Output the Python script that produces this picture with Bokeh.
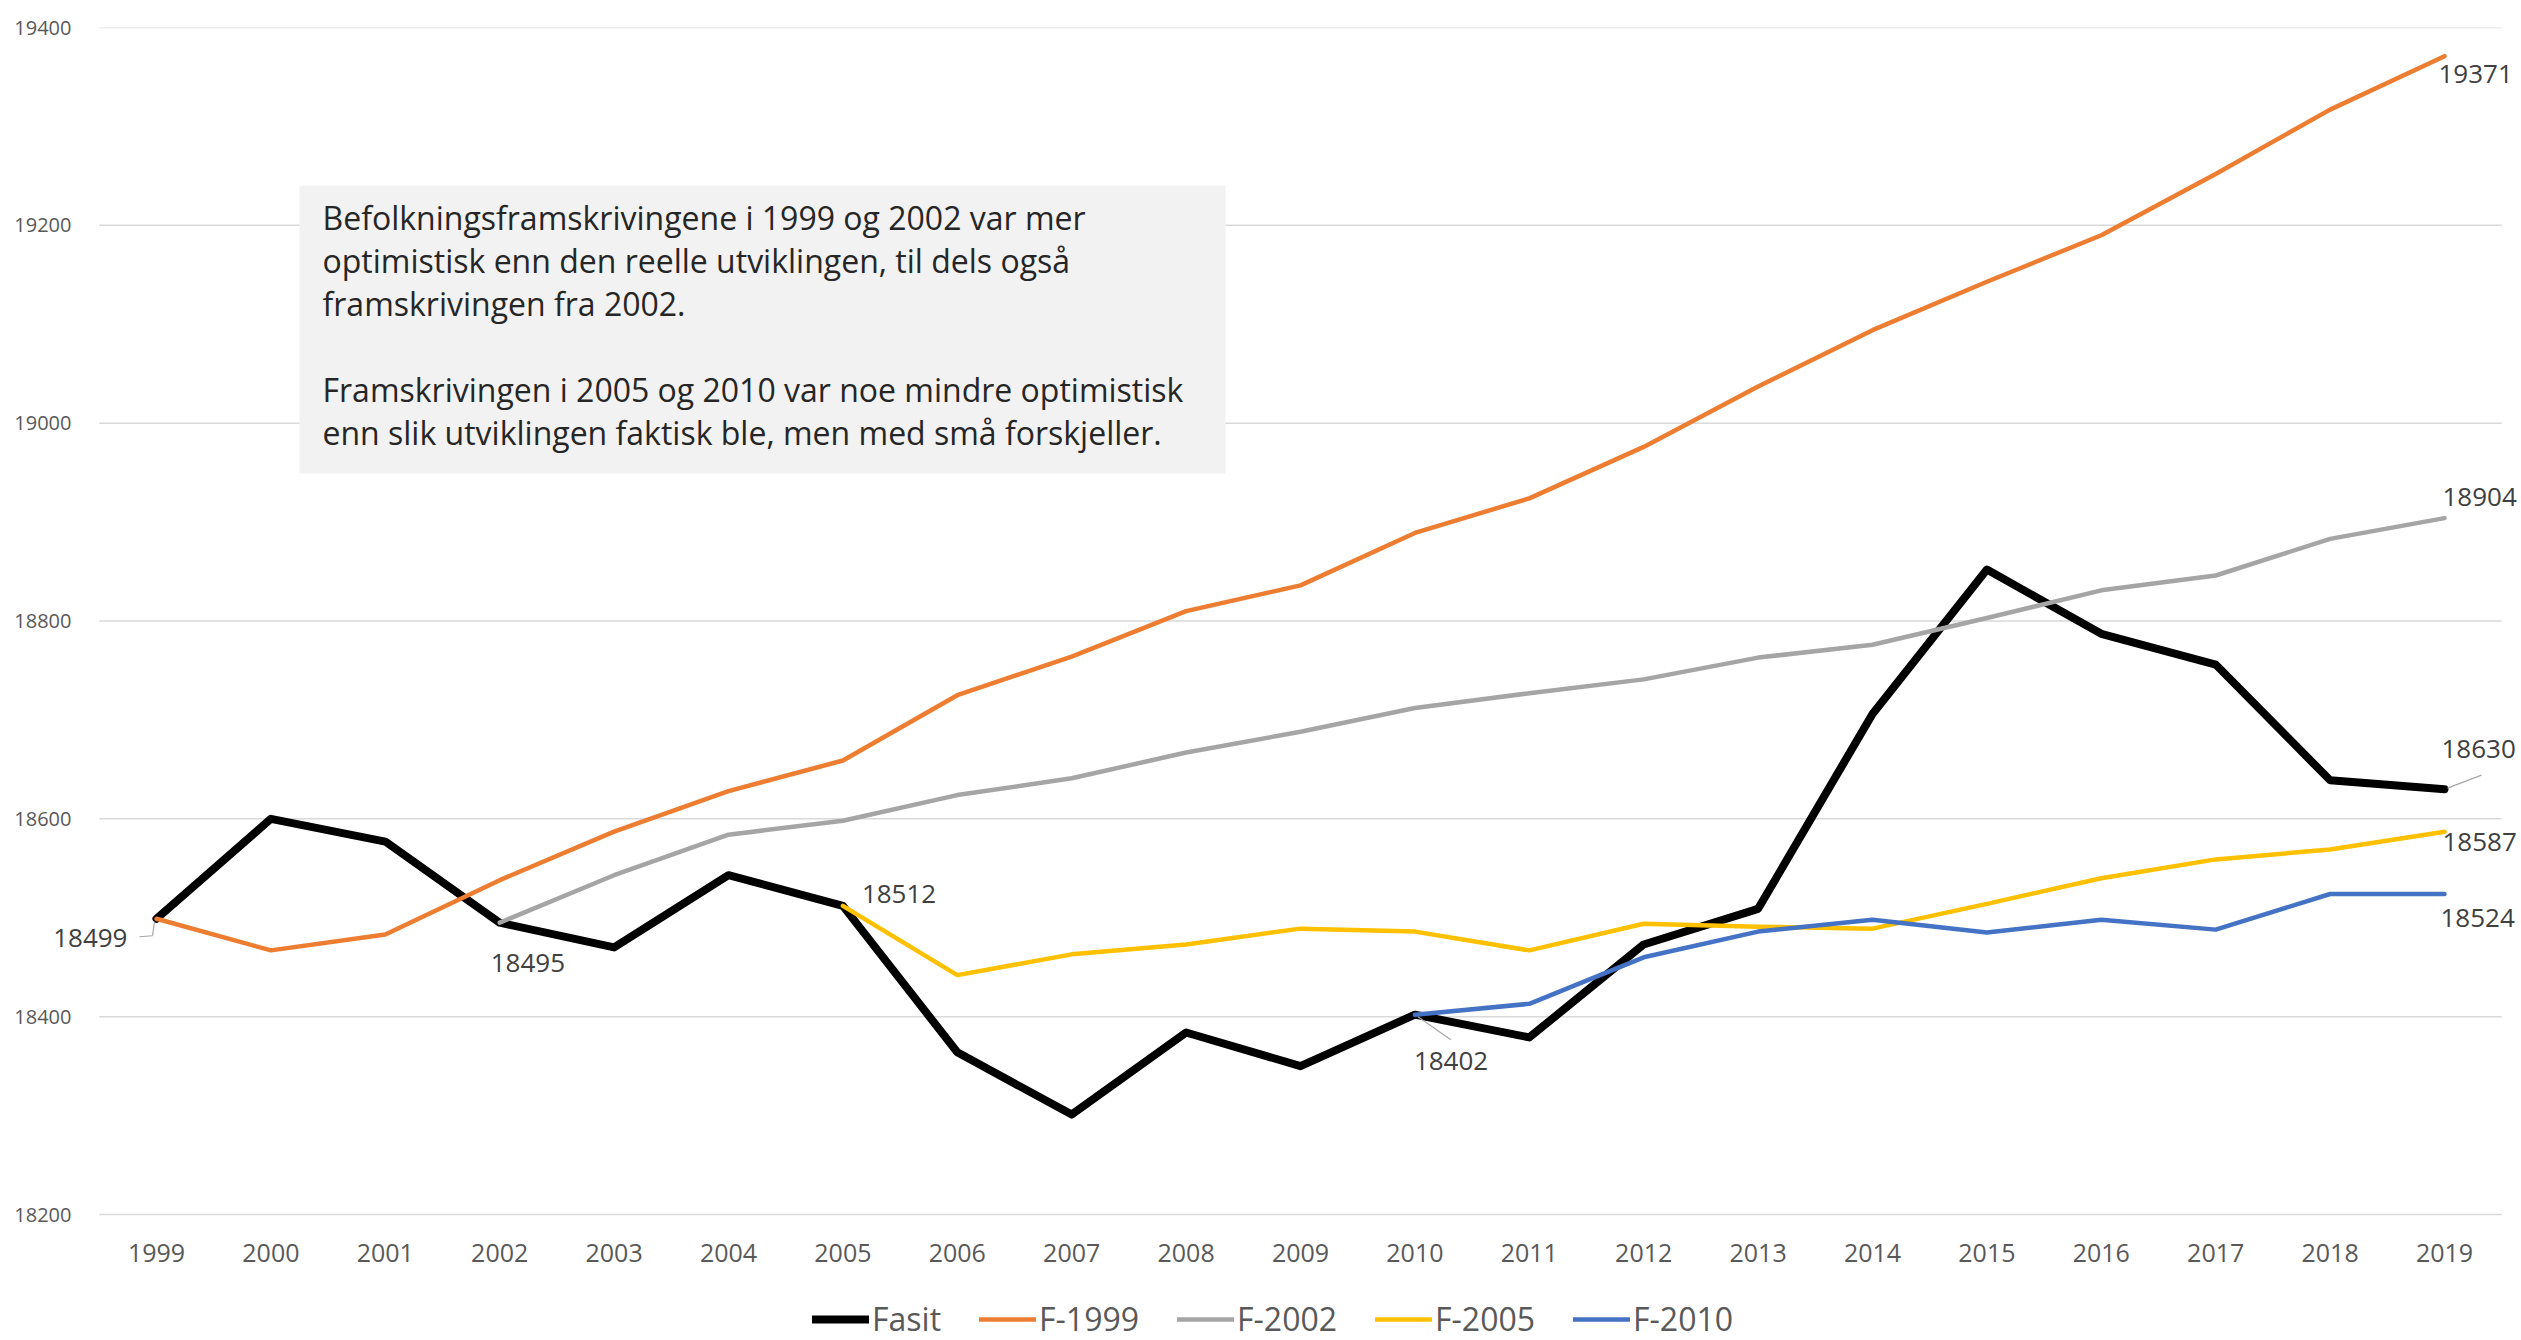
from bokeh.plotting import figure
from bokeh.models import (Range1d, FixedTicker, ColumnDataSource, LabelSet, Label,
                          Legend, LegendItem)
from bokeh.core.properties import value
from bokeh.embed import file_html
from bokeh.resources import INLINE

# ---------------- data ----------------
YEARS = list(range(1999, 2020))
FASIT = [18499, 18600, 18577, 18495, 18470, 18543, 18512, 18364, 18301, 18384, 18350,
         18402, 18379, 18473, 18509, 18706, 18852, 18787, 18756, 18639, 18630]
F1999_YEARS = list(range(1999, 2020))
F1999 = [18499, 18467, 18483, 18538, 18587, 18628, 18659, 18725, 18764, 18810, 18836,
         18889, 18924, 18976, 19037, 19094, 19143, 19190, 19252, 19317, 19371]
F2002_YEARS = list(range(2002, 2020))
F2002 = [18495, 18543, 18584, 18598, 18624, 18641, 18667, 18688, 18712, 18727, 18741,
         18763, 18776, 18803, 18831, 18846, 18883, 18904]
F2005_YEARS = list(range(2005, 2020))
F2005 = [18512, 18442, 18463, 18473, 18489, 18486, 18467, 18494, 18491, 18489, 18514,
         18540, 18559, 18569, 18587]
F2010_YEARS = list(range(2010, 2020))
F2010 = [18402, 18413, 18460, 18486, 18498, 18485, 18498, 18488, 18524, 18524]
Y_TICKS = [18200, 18400, 18600, 18800, 19000, 19200, 19400]
SERIES_NAMES = ["Fasit", "F-1999", "F-2002", "F-2005", "F-2010"]
NOTE = ("Befolkningsframskrivingene i 1999 og 2002 var mer\n"
        "optimistisk enn den reelle utviklingen, til dels også\n"
        "framskrivingen fra 2002.\n"
        "\n"
        "Framskrivingen i 2005 og 2010 var noe mindre optimistisk\n"
        "enn slik utviklingen faktisk ble, men med små forskjeller.")

# ---------------- styling / layout ----------------
FONT = "Open Sans"
TXT = "#595959"
LBL = "#404040"
COLORS = ["#000000", "#ED7D31", "#A5A5A5", "#FFC000", "#4472C4"]
WIDTHS = [8, 4.5, 4.5, 4.5, 4.5]
W, H = 2521, 1340
FL, FR, FT, FB = 40, 2521, 27, 1340          # frame edges in px
X_FIRST_PX, X_LAST_PX = 156, 2444            # px of first / last year
Y_TOP_PX, Y_BOT_PX = 27, 1214                # px of highest / lowest y tick
YLAB_RIGHT_PX = 77                           # right edge of y tick labels
PX_PER_YEAR = (X_LAST_PX - X_FIRST_PX) / (YEARS[-1] - YEARS[0])
PX_PER_UNIT = (Y_BOT_PX - Y_TOP_PX) / (Y_TICKS[-1] - Y_TICKS[0])
PX_X = 1 / PX_PER_YEAR
PX_Y = 1 / PX_PER_UNIT
x_start = YEARS[0] - (X_FIRST_PX - FL) * PX_X
x_end = YEARS[-1] + (FR - X_LAST_PX) * PX_X
y_start = Y_TICKS[0] - (FB - Y_BOT_PX) * PX_Y
y_end = Y_TICKS[-1] + (Y_TOP_PX - FT) * PX_Y

p = figure(width=W, height=H, output_backend="svg", toolbar_location=None,
           x_range=Range1d(x_start, x_end), y_range=Range1d(y_start, y_end),
           min_border_left=FL, min_border_right=W - FR, min_border_top=FT,
           min_border_bottom=H - FB)
p.outline_line_color = None
p.background_fill_color = "white"
p.border_fill_color = "white"
p.xgrid.grid_line_color = None
p.ygrid.grid_line_color = None

for ax in (p.xaxis[0], p.yaxis[0]):
    ax.axis_line_color = None
    ax.major_tick_line_color = None
    ax.minor_tick_line_color = None
    ax.major_label_text_font = FONT
    ax.major_label_text_color = TXT

p.xaxis.ticker = FixedTicker(ticks=YEARS)
p.xaxis.major_label_text_font_size = "25px"
p.xaxis.major_label_standoff = 1237 - FB
p.yaxis.ticker = FixedTicker(ticks=Y_TICKS)
p.yaxis.major_label_text_font_size = "20px"
p.yaxis.major_label_standoff = FL - YLAB_RIGHT_PX

# gridlines across the category band
p.segment([YEARS[0] - 0.5] * len(Y_TICKS), Y_TICKS, [YEARS[-1] + 0.5] * len(Y_TICKS), Y_TICKS,
          line_color="#D9D9D9", line_width=1.5)

# note box
BOX_L, BOX_R, BOX_T, BOX_B = 2000.25, 2008.345, 19240, 18949
p.quad(left=[BOX_L], right=[BOX_R], top=[BOX_T], bottom=[BOX_B],
       fill_color="#F2F2F2", line_color=None)
p.add_layout(Label(x=BOX_L, y=BOX_T, x_offset=23, y_offset=-10, text=NOTE,
                   text_font=FONT, text_font_size="32px", text_color="#262626",
                   text_baseline="top", text_align="left", text_line_height=1.0))

# lines
xs = [YEARS, F1999_YEARS, F2002_YEARS, F2005_YEARS, F2010_YEARS]
ys = [FASIT, F1999, F2002, F2005, F2010]
renderers = []
for x, y, c, w in zip(xs, ys, COLORS, WIDTHS):
    r = p.line(x, y, line_color=c, line_width=w, line_join="round", line_cap="round")
    renderers.append(r)

# leader lines (pixel offsets converted to data units)
lead_x0 = [YEARS[0] - 2 * PX_X, YEARS[0] - 4 * PX_X, F2010_YEARS[0] + 3 * PX_X, YEARS[-1] + 3 * PX_X]
lead_y0 = [FASIT[0] - 3 * PX_Y, FASIT[0] - 17 * PX_Y, F2010[0] - 2 * PX_Y, FASIT[-1] + 1 * PX_Y]
lead_x1 = [YEARS[0] - 4 * PX_X, YEARS[0] - 17 * PX_X, F2010_YEARS[0] + 36 * PX_X, YEARS[-1] + 37 * PX_X]
lead_y1 = [FASIT[0] - 17 * PX_Y, FASIT[0] - 18 * PX_Y, F2010[0] - 25 * PX_Y, FASIT[-1] + 14 * PX_Y]
p.segment(lead_x0, lead_y0, lead_x1, lead_y1, line_color="#A6A6A6", line_width=1.2)

# data labels
lab_x = [YEARS[0], F2002_YEARS[0], F2005_YEARS[0], F2010_YEARS[0],
         F1999_YEARS[-1], F2002_YEARS[-1], YEARS[-1], F2005_YEARS[-1], F2010_YEARS[-1]]
lab_y = [FASIT[0], F2002[0], F2005[0], F2010[0],
         F1999[-1], F2002[-1], FASIT[-1], F2005[-1], F2010[-1]]
lab_src = ColumnDataSource(dict(
    x=lab_x, y=lab_y, text=[str(v) for v in lab_y],
    xo=[-29, -9, 19, -1, -6, -2, -3, -2, -4],
    yo=[-19, -40, 12, -46, -18, 21, 40, -10, -24],
    al=["right", "left", "left", "left", "left", "left", "left", "left", "left"]))
p.add_layout(LabelSet(source=lab_src, x="x", y="y", text="text", x_offset="xo",
                      y_offset="yo", text_align="al", text_baseline="middle",
                      text_font=value(FONT), text_font_size=value("26px"),
                      text_color=value(LBL)))

# legend (inside the extended frame, below the tick labels)
legend = Legend(items=[LegendItem(label=n, renderers=[r]) for n, r in zip(SERIES_NAMES, renderers)],
                orientation="horizontal", location=(812 - FL, 0),
                glyph_width=57, glyph_height=20, label_standoff=3, spacing=38,
                padding=0, margin=0, border_line_color=None, background_fill_alpha=0,
                label_text_font=FONT, label_text_font_size="32px", label_text_color=TXT,
                label_height=30)
p.add_layout(legend, "center")

open("out.html", "w").write(file_html(p, INLINE))
